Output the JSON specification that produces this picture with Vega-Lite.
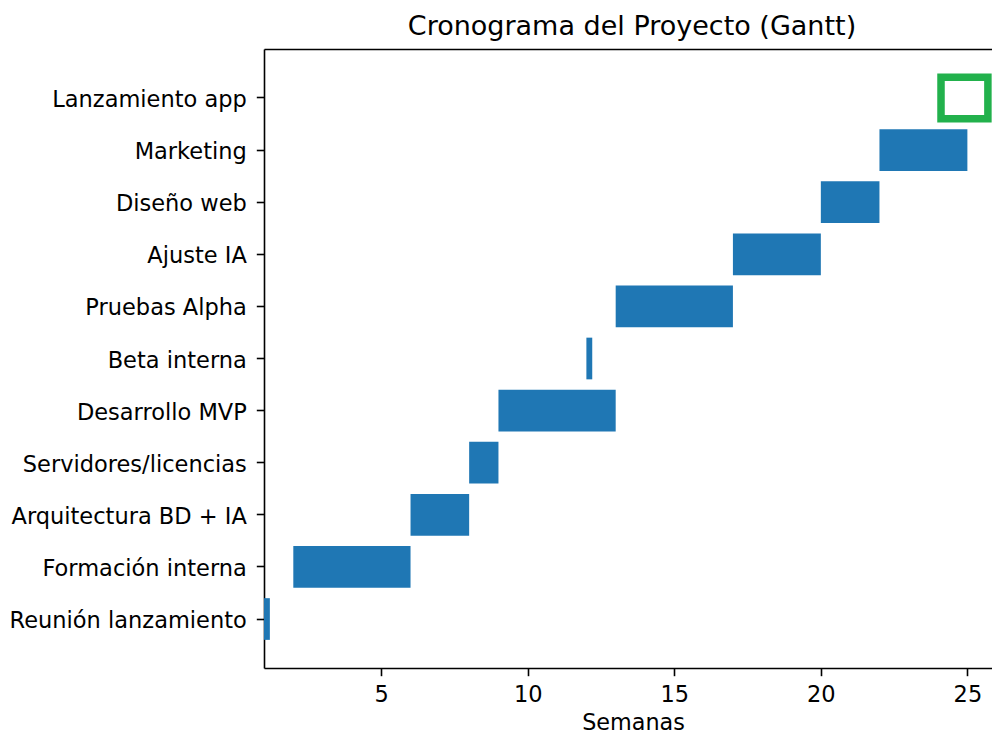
{
  "$schema": "https://vega.github.io/schema/vega-lite/v6.json",
  "width": 728,
  "height": 619,
  "autosize": {"type": "none"},
  "padding": {"left": 264, "top": 49, "right": 0, "bottom": 66},
  "background": "white",
  "config": {
    "view": {"stroke": null},
    "font": "DejaVu Sans",
    "axis": {
      "labelFont": "DejaVu Sans",
      "titleFont": "DejaVu Sans",
      "labelFontSize": 22.5,
      "titleFontSize": 22.3,
      "labelColor": "black",
      "titleColor": "black",
      "titleFontWeight": "normal",
      "tickColor": "black",
      "tickSize": 7.7,
      "tickWidth": 1.6,
      "domainColor": "black",
      "domainWidth": 1.6,
      "labelPadding": 8,
      "labelLimit": 0,
      "grid": false
    }
  },
  "title": {
    "text": "Cronograma del Proyecto (Gantt)",
    "font": "DejaVu Sans",
    "fontSize": 27,
    "fontWeight": "normal",
    "color": "black",
    "anchor": "middle",
    "dx": 4,
    "offset": 8
  },
  "data": {
    "values": [
      {"tarea": "Reunión lanzamiento", "inicio": 1, "fin": 1.2, "tipo": "tarea"},
      {"tarea": "Formación interna", "inicio": 2, "fin": 6, "tipo": "tarea"},
      {"tarea": "Arquitectura BD + IA", "inicio": 6, "fin": 8, "tipo": "tarea"},
      {"tarea": "Servidores/licencias", "inicio": 8, "fin": 9, "tipo": "tarea"},
      {"tarea": "Desarrollo MVP", "inicio": 9, "fin": 13, "tipo": "tarea"},
      {"tarea": "Beta interna", "inicio": 12, "fin": 12.2, "tipo": "tarea"},
      {"tarea": "Pruebas Alpha", "inicio": 13, "fin": 17, "tipo": "tarea"},
      {"tarea": "Ajuste IA", "inicio": 17, "fin": 20, "tipo": "tarea"},
      {"tarea": "Diseño web", "inicio": 20, "fin": 22, "tipo": "tarea"},
      {"tarea": "Marketing", "inicio": 22, "fin": 25, "tipo": "tarea"},
      {"tarea": "Lanzamiento app", "inicio": 24.1, "fin": 25.7, "tipo": "hito"}
    ]
  },
  "encoding": {
    "y": {
      "field": "tarea",
      "type": "nominal",
      "sort": ["Lanzamiento app", "Marketing", "Diseño web", "Ajuste IA", "Pruebas Alpha", "Beta interna", "Desarrollo MVP", "Servidores/licencias", "Arquitectura BD + IA", "Formación interna", "Reunión lanzamiento"],
      "scale": {"paddingInner": 0.2, "paddingOuter": 0.54},
      "axis": {"title": null, "orient": "left", "labelOffset": 2, "labelPadding": 10}
    },
    "x": {
      "field": "inicio",
      "type": "quantitative",
      "scale": {"domain": [1, 25.84], "nice": false, "zero": false},
      "axis": {"title": "Semanas", "values": [5, 10, 15, 20, 25], "titleX": 369, "titleY": 54, "titleBaseline": "middle", "titleAnchor": "middle"}
    },
    "x2": {"field": "fin"}
  },
  "layer": [
    {
      "transform": [{"filter": "datum.tipo === 'tarea'"}],
      "mark": {"type": "bar", "color": "#1f77b4", "clip": true}
    },
    {
      "transform": [{"filter": "datum.tipo === 'hito'"}],
      "mark": {"type": "bar", "filled": false, "fill": "white", "stroke": "#22b14c", "strokeWidth": 7.5, "clip": true},
      "encoding": {
        "x": {
          "field": "inicio",
          "type": "quantitative",
          "scale": {"domain": [1, 25.84], "nice": false, "zero": false},
          "axis": {"orient": "top", "title": null, "labels": false, "ticks": false, "domain": true}
        }
      }
    }
  ],
  "resolve": {"axis": {"x": "independent"}}
}
